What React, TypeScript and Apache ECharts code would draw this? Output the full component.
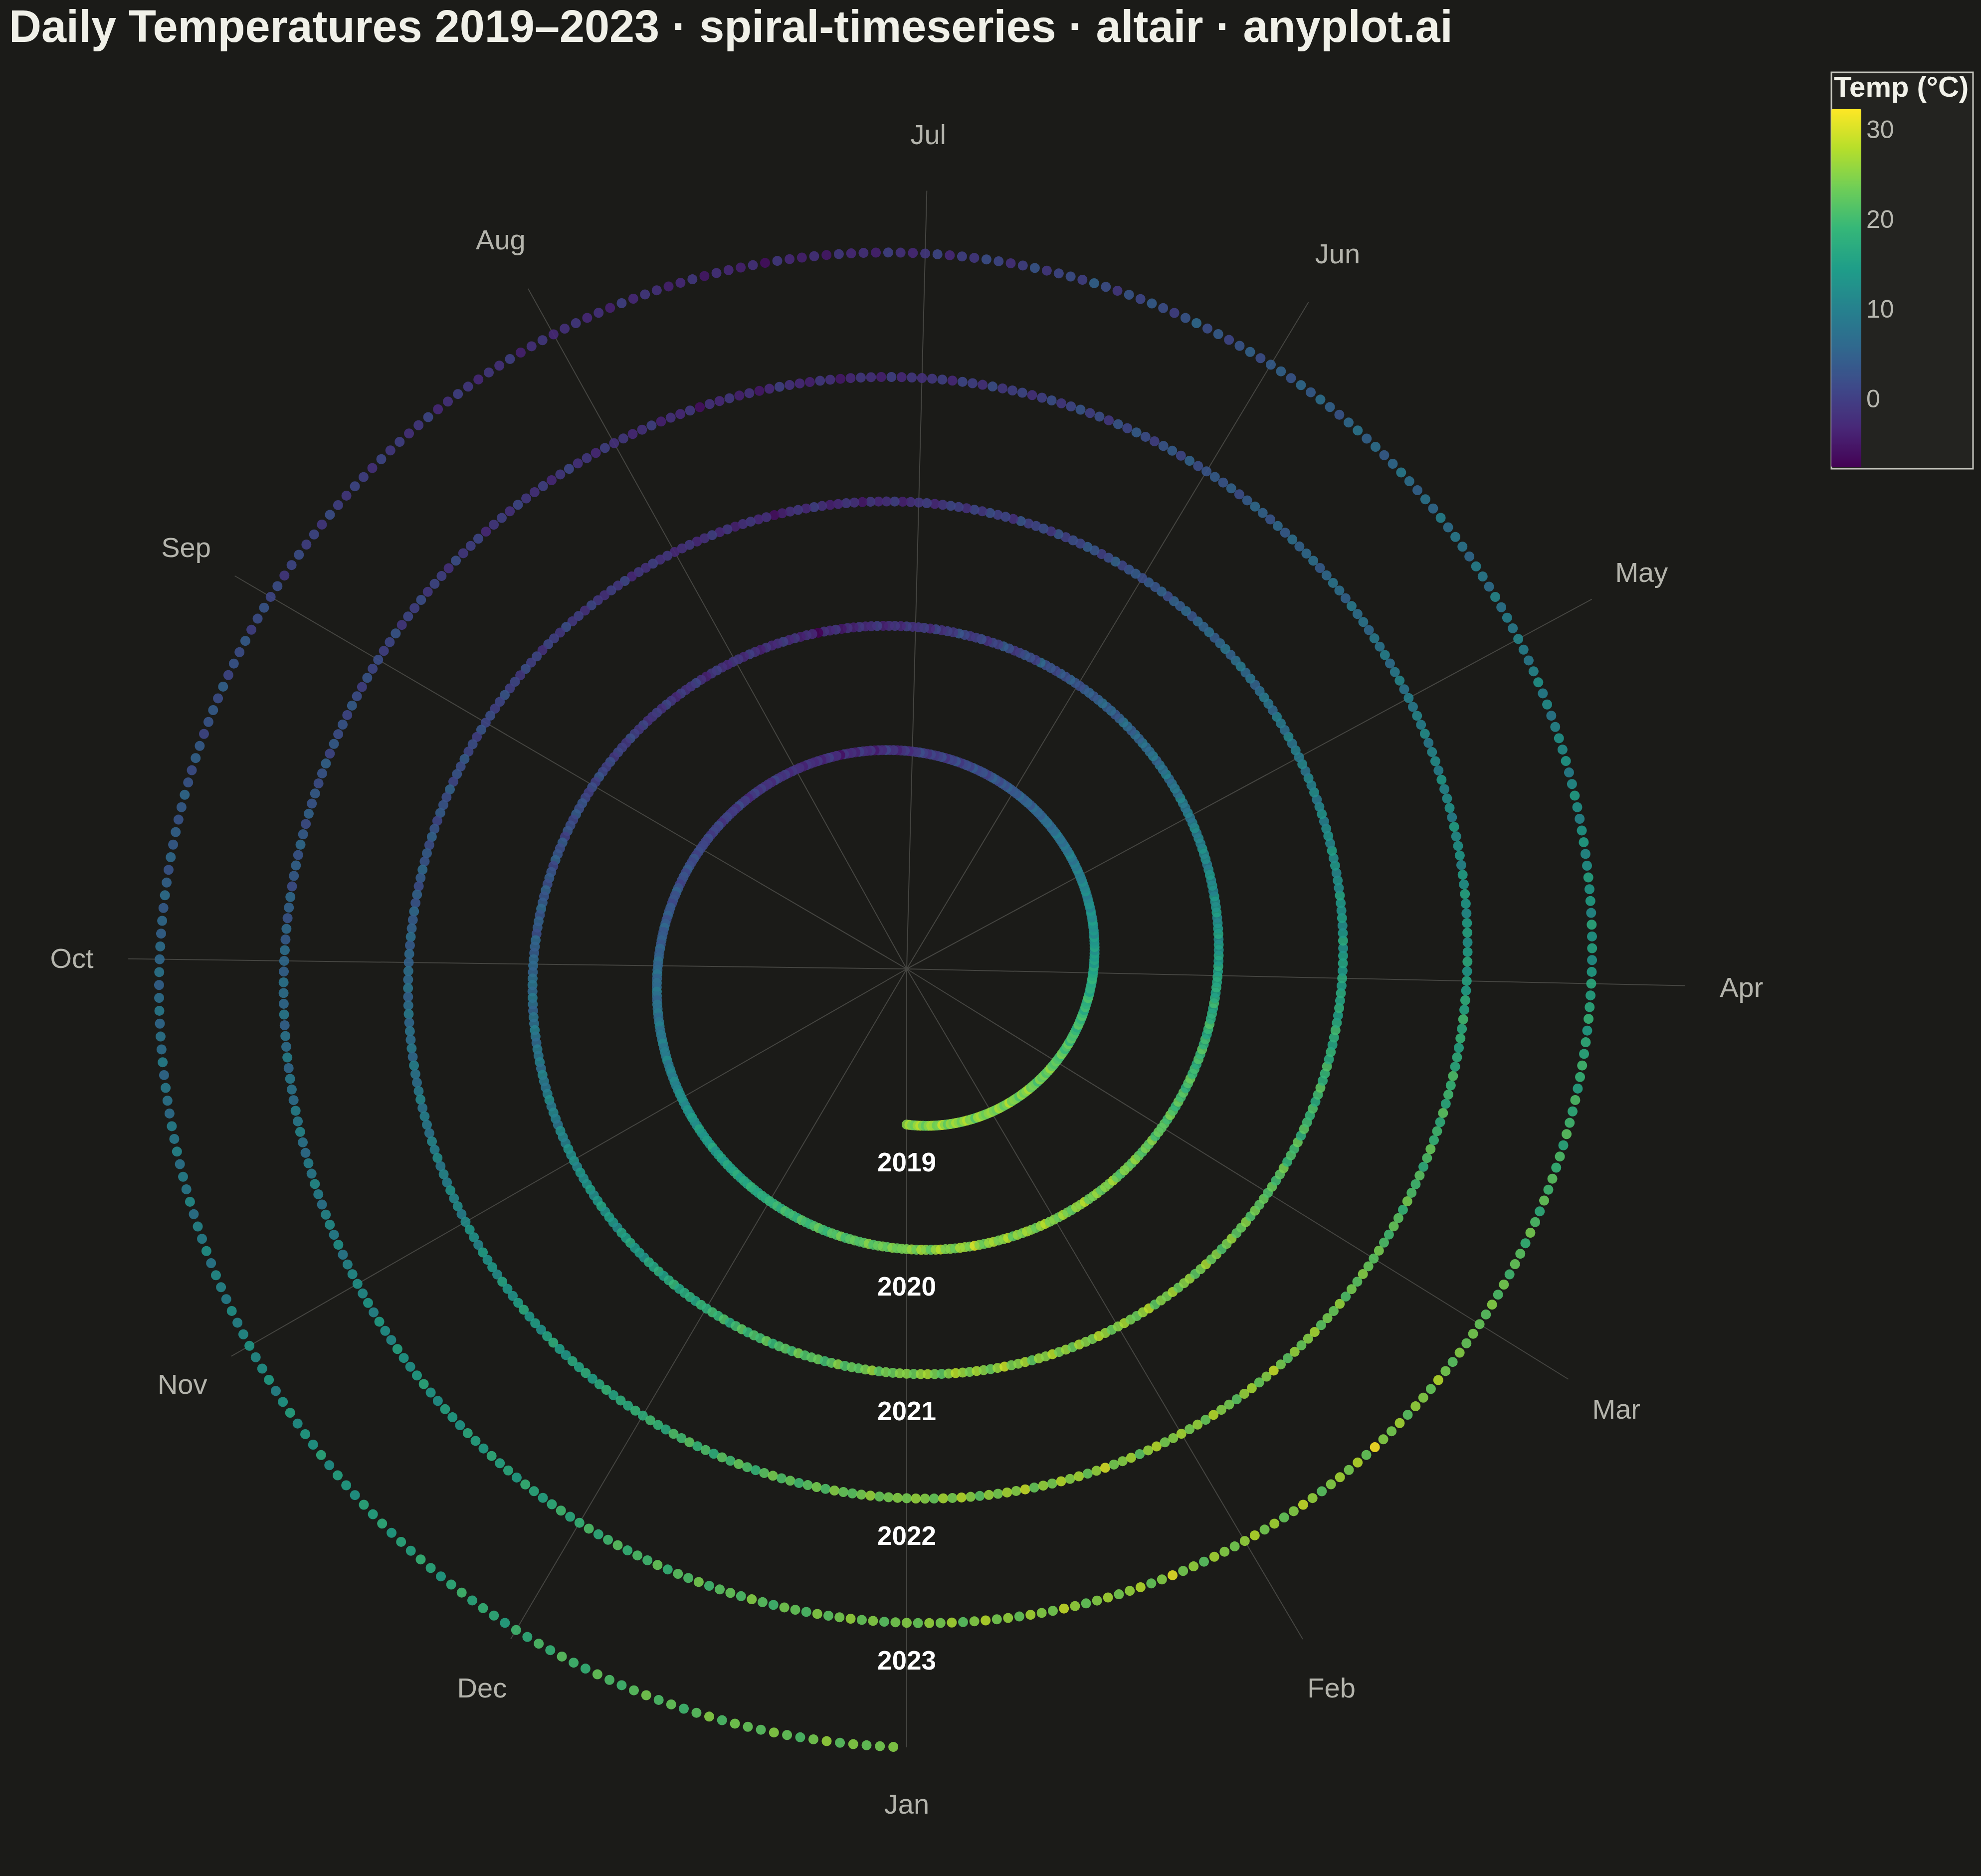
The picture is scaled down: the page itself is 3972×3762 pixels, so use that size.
import React, { useEffect, useRef } from "react";
import * as echarts from "echarts";

// ---------- data ----------
const YEARS = [2019, 2020, 2021, 2022, 2023];
const MONTHS = ["Jan", "Feb", "Mar", "Apr", "May", "Jun", "Jul", "Aug", "Sep", "Oct", "Nov", "Dec"];
const MONTH_START_DAYS = [0, 31, 59, 90, 120, 151, 181, 212, 243, 273, 304, 334];
const DAYS_IN_YEAR = 365;
const COLORBAR_TICKS = [0, 10, 20, 30];

// daily temperatures (°C), Jan 1 → Dec 31
const TEMP_2019 = [
  25, 27, 24, 23, 26, 28, 24, 22, 25, 27, 26, 23, 24, 29, 25, 22, 26, 24, 27, 25, 23, 26, 28, 24, 25, 21, 26, 27, 24, 23, 25,
  26, 24, 23, 27, 25, 22, 24, 28, 23, 25, 24, 21, 26, 23, 25, 27, 22, 24, 23, 20, 25, 22, 24, 21, 23, 26, 22, 21,
  23, 21, 20, 24, 22, 19, 21, 23, 18, 22, 20, 21, 19, 17, 22, 20, 18, 21, 19, 16, 20, 18, 17, 21, 19, 15, 18, 17, 16, 19, 17,
  16, 15, 17, 13, 16, 14, 15, 12, 16, 14, 13, 15, 11, 14, 12, 13, 15, 11, 12, 14, 10, 13, 12, 11, 9, 13, 11, 10, 12, 9,
  10, 9, 11, 8, 10, 7, 9, 11, 8, 7, 9, 6, 8, 7, 10, 6, 7, 5, 8, 6, 7, 4, 6, 5, 7, 3, 6, 5, 4, 6, 3,
  4, 3, 5, 2, 4, 1, 3, 5, 2, 0, 3, 2, 1, 4, 0, 2, 1, -1, 3, 0, 1, -2, 2, 0, -1, 1, -2, 0, 2, -1,
  -1, -3, 0, -2, -4, -1, -2, 1, -3, -2, -5, -1, -3, -2, 0, -4, -2, -3, -1, -6, -2, -3, 0, -2, -4, -1, -3, -2, -1, -4, -2,
  -2, -1, -3, 0, -2, -1, 1, -3, -1, -2, 0, -2, 1, -1, -3, 0, -1, 2, -2, 0, -1, 1, 0, -2, 2, 0, 1, -1, 2, 0, 1,
  1, 2, 0, 3, 1, 2, 4, 1, 3, 2, 0, 3, 5, 2, 3, 1, 4, 3, 5, 2, 4, 6, 3, 4, 5, 3, 6, 4, 5, 7,
  5, 6, 8, 5, 7, 6, 9, 7, 5, 8, 7, 9, 6, 8, 10, 7, 9, 8, 11, 8, 10, 9, 12, 8, 10, 11, 9, 12, 10, 11, 13,
  12, 13, 11, 14, 12, 15, 13, 12, 16, 14, 13, 15, 14, 17, 13, 15, 16, 14, 17, 15, 16, 18, 15, 17, 16, 19, 17, 16, 18, 17,
  19, 18, 20, 17, 21, 19, 20, 18, 22, 20, 19, 21, 23, 20, 19, 22, 21, 24, 20, 22, 23, 21, 22, 25, 21, 23, 24, 22, 25, 23, 24,
];
const TEMP_2020 = [
  24, 26, 23, 27, 25, 22, 26, 28, 24, 25, 23, 27, 26, 24, 30, 25, 23, 26, 27, 24, 25, 28, 22, 26, 24, 27, 25, 23, 26, 28, 24,
  25, 23, 27, 24, 22, 26, 25, 28, 23, 24, 26, 22, 25, 24, 27, 23, 21, 25, 24, 22, 26, 23, 21, 24, 22, 25, 20, 23, 22,
  22, 20, 24, 21, 19, 23, 20, 22, 18, 21, 23, 19, 20, 17, 21, 19, 22, 18, 20, 16, 19, 21, 17, 18, 16, 20, 17, 15, 18, 16, 17,
  15, 17, 14, 16, 13, 15, 12, 16, 14, 13, 11, 15, 13, 12, 14, 10, 13, 11, 14, 12, 9, 12, 11, 13, 10, 11, 9, 12, 10, 8,
  10, 8, 9, 11, 7, 9, 8, 6, 10, 7, 8, 5, 9, 7, 6, 8, 5, 7, 4, 6, 8, 5, 3, 6, 4, 7, 5, 3, 5, 4, 2,
  3, 5, 2, 4, 1, 3, 2, 6, 0, 2, 3, 1, -1, 2, 4, 0, 1, -2, 2, 0, -1, 1, 3, -1, 0, -2, 1, -3, 0, -1,
  -2, 0, -3, -1, -2, -4, 0, -2, -3, -1, -4, -2, -5, -1, -3, -2, -7.6, -3, -2, -4, -1, -3, 0, -2, -3, -1, -4, -2, 0, -3, -1,
  -1, -3, -2, 0, -1, -4, -2, 1, -1, -2, 0, -3, -1, 1, -2, 0, -1, -2, 1, -1, 0, 2, -1, 0, 1, -1, 2, 0, 1, 3, 0,
  2, 0, 1, 3, 2, 4, 1, 2, 3, 0, 4, 2, 3, 5, 1, 3, 4, 2, 5, 3, 4, 6, 3, 5, 4, 2, 6, 5, 4, 6,
  6, 5, 7, 8, 6, 9, 7, 5, 8, 7, 10, 8, 6, 9, 8, 10, 7, 11, 9, 8, 10, 12, 9, 11, 10, 8, 12, 11, 10, 13, 12,
  13, 11, 14, 12, 13, 15, 12, 14, 16, 13, 15, 14, 12, 16, 15, 17, 14, 15, 13, 17, 16, 18, 15, 17, 19, 16, 17, 18, 16, 19,
  18, 20, 19, 21, 17, 20, 22, 19, 21, 20, 23, 19, 21, 22, 20, 24, 21, 22, 23, 20, 22, 25, 21, 23, 22, 24, 26, 22, 24, 23, 25,
];
const TEMP_2021 = [
  25, 23, 26, 27, 24, 22, 25, 28, 26, 24, 27, 25, 23, 26, 29, 24, 25, 27, 22, 26, 25, 28, 24, 26, 23, 27, 25, 24, 28, 26, 23,
  25, 27, 24, 23, 26, 28, 22, 25, 24, 27, 23, 25, 26, 22, 24, 27, 23, 25, 21, 24, 26, 22, 23, 25, 21, 24, 22, 23,
  21, 23, 20, 22, 24, 19, 21, 20, 23, 18, 22, 20, 19, 21, 17, 20, 22, 18, 19, 21, 17, 19, 16, 18, 20, 17, 15, 18, 16, 17, 15,
  17, 14, 16, 15, 13, 17, 14, 12, 15, 13, 14, 16, 12, 13, 11, 14, 12, 15, 11, 13, 12, 10, 13, 11, 9, 12, 10, 11, 8, 11,
  9, 10, 8, 11, 7, 9, 10, 6, 8, 9, 7, 5, 8, 6, 9, 7, 5, 8, 6, 4, 7, 5, 6, 3, 6, 4, 5, 2, 5, 3, 4,
  2, 4, 3, 1, 5, 2, 0, 3, 4, 1, 2, 0, 3, -1, 2, 1, 0, 3, -2, 1, 0, 2, -1, 1, -2, 0, 1, -1, -3, 0,
  -1, -2, -4, 0, -2, -3, -1, -5, -2, -1, -3, -4, -2, 0, -3, -1, -2, -4, -6, -2, -3, -1, -2, -4, -1, -3, 0, -2, -3, -1, -2,
  -3, -1, -2, 0, -2, -1, -3, 1, -1, 0, -2, -1, 1, -2, 0, -1, 2, -1, 0, 1, -2, 1, 0, 2, -1, 1, 0, 3, 1, 0, 2,
  1, 3, 0, 2, 1, 4, 2, 3, 1, 5, 2, 3, 4, 1, 3, 5, 2, 4, 3, 6, 4, 2, 5, 3, 6, 4, 5, 7, 4, 6,
  5, 7, 6, 8, 5, 7, 9, 6, 8, 7, 9, 6, 10, 8, 7, 9, 11, 8, 10, 9, 8, 11, 10, 12, 9, 11, 10, 13, 11, 12, 10,
  12, 14, 13, 11, 15, 13, 14, 12, 16, 14, 13, 15, 17, 14, 15, 13, 16, 18, 15, 14, 17, 16, 18, 15, 17, 19, 16, 18, 17, 19,
  18, 20, 19, 17, 21, 20, 22, 19, 21, 18, 22, 20, 23, 21, 19, 22, 24, 21, 23, 20, 22, 24, 21, 25, 23, 22, 24, 26, 23, 24, 25,
];
const TEMP_2022 = [
  24, 26, 25, 23, 27, 24, 28, 25, 22, 26, 24, 27, 25, 29, 23, 26, 24, 28, 25, 27, 23, 26, 30, 24, 25, 27, 22, 26, 28, 24, 25,
  27, 24, 26, 23, 28, 25, 24, 22, 26, 27, 23, 25, 29, 24, 22, 26, 23, 25, 27, 22, 24, 23, 26, 21, 24, 22, 25, 23,
  22, 24, 21, 20, 23, 22, 19, 24, 21, 20, 22, 18, 21, 23, 19, 20, 18, 22, 17, 20, 19, 21, 17, 18, 16, 19, 17, 20, 16, 18, 15,
  16, 14, 17, 15, 13, 16, 15, 12, 14, 16, 13, 15, 11, 14, 13, 12, 15, 10, 13, 12, 11, 14, 10, 12, 11, 9, 12, 10, 11, 9,
  10, 8, 11, 9, 7, 10, 8, 9, 6, 8, 7, 9, 5, 7, 8, 6, 4, 7, 6, 5, 7, 4, 6, 3, 5, 6, 4, 2, 5, 3, 4,
  3, 2, 5, 1, 4, 3, 0, 2, 4, 1, 3, -1, 2, 0, 3, 1, -1, 2, 0, -2, 1, 0, -1, 2, -2, 0, 1, -3, 0, -1,
  -2, -1, -3, 0, -4, -2, -1, -3, -5, -2, -1, -4, -3, -2, 0, -3, -5, -2, -4, -1, -3, -2, -6, -1, -3, -2, -4, 0, -2, -3, -1,
  -2, 0, -3, -1, -2, 1, -1, -3, 0, -2, -1, 1, -2, 0, -1, -3, 1, 0, -1, 2, -2, 0, 1, -1, 2, 0, 1, -1, 3, 1, 0,
  2, 1, 3, 0, 2, 4, 1, 3, 2, 4, 1, 5, 3, 2, 4, 3, 5, 2, 4, 6, 3, 5, 4, 2, 6, 5, 3, 6, 4, 7,
  6, 5, 8, 7, 6, 9, 5, 8, 7, 10, 6, 9, 8, 7, 10, 9, 11, 8, 7, 10, 9, 12, 10, 8, 11, 12, 10, 13, 9, 11, 12,
  13, 12, 14, 11, 15, 13, 12, 16, 14, 13, 15, 17, 14, 13, 16, 15, 14, 17, 16, 15, 18, 16, 17, 15, 19, 17, 16, 18, 20, 17,
  19, 21, 18, 20, 22, 19, 21, 20, 23, 19, 22, 21, 24, 20, 22, 23, 21, 25, 22, 20, 24, 23, 21, 25, 22, 24, 26, 23, 25, 22, 24,
];
const TEMP_2023 = [
  25, 23, 26, 24, 27, 22, 25, 28, 24, 26, 23, 27, 25, 24, 29, 26, 23, 25, 27, 24, 26, 28, 23, 25, 31, 24, 26, 22, 27, 25, 24,
  26, 28, 24, 27, 23, 25, 29, 26, 22, 25, 27, 24, 28, 23, 32.3, 25, 24, 27, 22, 26, 25, 23, 28, 24, 22, 25, 23, 24,
  23, 22, 25, 21, 24, 20, 23, 22, 19, 24, 21, 18, 23, 20, 22, 19, 21, 17, 22, 20, 18, 21, 16, 19, 20, 17, 18, 15, 19, 17, 16,
  17, 15, 13, 16, 14, 17, 12, 15, 14, 16, 13, 12, 15, 14, 11, 13, 15, 12, 10, 14, 12, 13, 11, 9, 12, 10, 13, 11, 9, 10,
  11, 9, 10, 8, 11, 7, 9, 10, 6, 8, 9, 7, 10, 6, 8, 5, 7, 9, 6, 4, 7, 5, 8, 6, 3, 5, 7, 4, 6, 3, 5,
  4, 2, 5, 3, 1, 4, 2, 6, 3, 0, 2, 4, 1, 3, -1, 2, 5, 0, 2, 1, -1, 3, 0, -2, 1, 2, -1, 0, -3, 1,
  -1, -3, -2, 0, -4, -2, -3, -1, -5, -2, -4, -3, -1, -6, -2, -4, -3, -2, -5, -1, -3, -4, -2, -1, -3, 0, -4, -2, -3, -1, -2,
  -3, -1, -2, -4, 0, -2, -1, -3, -1, 0, -2, -3, 1, -1, -2, 0, -1, 1, -2, 0, 1, -1, 0, 2, -1, 1, 0, 2, 1, -1, 2,
  1, 3, 2, 0, 4, 2, 3, 1, 5, 2, 4, 3, 1, 4, 5, 2, 3, 6, 4, 3, 5, 4, 6, 3, 5, 7, 4, 6, 5, 7,
  6, 8, 5, 7, 9, 6, 8, 7, 10, 6, 9, 8, 7, 10, 9, 11, 8, 10, 9, 12, 8, 11, 10, 13, 9, 12, 11, 10, 13, 11, 12,
  14, 12, 13, 15, 11, 14, 16, 13, 15, 14, 17, 13, 16, 15, 14, 17, 16, 18, 15, 17, 16, 19, 17, 15, 18, 20, 17, 19, 18, 16,
  20, 18, 21, 19, 22, 20, 19, 23, 21, 20, 22, 24, 21, 23, 20, 22, 25, 21, 24, 23, 22, 25, 23, 21, 24, 26, 22, 25, 23, 24, 25,
];
const TEMPS_BY_YEAR = [TEMP_2019, TEMP_2020, TEMP_2021, TEMP_2022, TEMP_2023];

// ---------- styling ----------
const VIRIDIS = [
  "#440154", "#482878", "#3e4989", "#31688e", "#26828e",
  "#1f9e89", "#35b779", "#6ece58", "#b5de2b", "#fde725",
];
const FONT = "'Liberation Sans', Arial, Helvetica, sans-serif";
const W = 3972;
const H = 3762;
const CX = 1818;
const CY = 1943;
const R = 1561;
const SPIRAL_OFFSET = 1.25; // inner hole of the spiral, in years
const YEAR_LABEL_OFFSET = 0.3;
const MONTH_LABEL_FACTOR = 1.0725; // month labels sit just outside the spokes
const BG = "#1b1b18";

export default function App() {
  const ref = useRef<HTMLDivElement>(null);

  useEffect(() => {
    document.body.style.margin = "0";
    document.body.style.background = BG;
    if (!ref.current) return;
    const chart = echarts.init(ref.current, null, { renderer: "svg" });

    const points: number[][] = [];
    TEMPS_BY_YEAR.forEach((temps, y) => {
      const n = temps.length;
      temps.forEach((t, i) => {
        points.push([SPIRAL_OFFSET + y + i / n, (i / n) * DAYS_IN_YEAR, t]);
      });
    });
    const all = TEMPS_BY_YEAR.flat();
    const tMin = Math.min(...all);
    const tMax = Math.max(...all);
    const rMax = SPIRAL_OFFSET + YEARS.length;

    const dayCategories = Array.from({ length: DAYS_IN_YEAR }, (_, d) => "d" + d);
    const isMonthStart = (index: number) => MONTH_START_DAYS.indexOf(index) >= 0;

    const option: any = {
      animation: false,
      backgroundColor: BG,
      textStyle: { fontFamily: FONT },
      title: {
        text: "Daily Temperatures 2019–2023 · spiral-timeseries · altair · anyplot.ai",
        left: 18,
        top: 8,
        padding: 0,
        textStyle: { color: "#f0f0e8", fontSize: 90, fontWeight: "bold", fontFamily: FONT },
      },
      polar: [
        { center: [CX, CY], radius: R },
        { center: [CX, CY], radius: R },
      ],
      angleAxis: [
        {
          polarIndex: 0,
          type: "value",
          min: 0,
          max: DAYS_IN_YEAR,
          startAngle: 270,
          clockwise: false,
          show: false,
        },
        {
          polarIndex: 1,
          type: "category",
          data: dayCategories,
          boundaryGap: false,
          startAngle: 270,
          clockwise: false,
          axisLine: { show: false },
          axisTick: { show: false, interval: isMonthStart },
          axisLabel: { show: false, interval: isMonthStart },
          splitLine: {
            show: true,
            interval: isMonthStart,
            lineStyle: { color: "#454541", width: 2 },
          },
        },
      ],
      radiusAxis: [
        { polarIndex: 0, type: "value", min: 0, max: rMax, show: false },
        { polarIndex: 1, type: "value", min: 0, max: 1, show: false },
      ],
      grid: { left: 3672, top: 219, width: 60, height: 718, show: false },
      xAxis: { type: "value", gridIndex: 0, show: false, min: 0, max: 1 },
      yAxis: {
        type: "value",
        gridIndex: 0,
        min: tMin,
        max: tMax,
        position: "right",
        axisLine: { show: false },
        axisTick: { show: false },
        splitLine: { show: false },
        axisLabel: {
          customValues: COLORBAR_TICKS,
          color: "#b8b8b0",
          fontSize: 50,
          margin: 10,
          fontFamily: FONT,
        },
      },
      visualMap: {
        type: "continuous",
        seriesIndex: 0,
        dimension: 2,
        min: tMin,
        max: tMax,
        calculable: false,
        hoverLink: false,
        orient: "vertical",
        left: 3672,
        top: 219,
        itemWidth: 60,
        itemHeight: 718,
        padding: 0,
        inRange: { color: VIRIDIS },
        z: 5,
      },
      graphic: [
        {
          type: "rect",
          z: -10,
          shape: { x: 3672, y: 145, width: 284, height: 795 },
          style: { fill: "#232320", stroke: "#c5c5bd", lineWidth: 3 },
        },
        {
          type: "text",
          z: 10,
          x: 3677,
          y: 173,
          style: {
            text: "Temp (°C)",
            fill: "#f2f2ea",
            fontSize: 58,
            fontWeight: "bold",
            fontFamily: FONT,
            align: "left",
            verticalAlign: "middle",
          },
        },
      ],
      series: [
        {
          type: "scatter",
          coordinateSystem: "polar",
          polarIndex: 0,
          data: points,
          symbol: "circle",
          symbolSize: 20,
          itemStyle: { opacity: 0.88 },
          silent: true,
          z: 3,
        },
        {
          type: "scatter",
          coordinateSystem: "polar",
          polarIndex: 0,
          clip: false,
          data: YEARS.map((yr, k) => ({
            name: String(yr),
            value: [SPIRAL_OFFSET + k + YEAR_LABEL_OFFSET, 0],
          })),
          symbolSize: 2,
          itemStyle: { color: "rgba(0,0,0,0)", opacity: 1 },
          label: {
            show: true,
            position: "inside",
            formatter: "{b}",
            color: "#ffffff",
            opacity: 1,
            textBorderWidth: 0,
            fontSize: 53,
            fontWeight: "bold",
            fontFamily: FONT,
          },
          silent: true,
          z: 5,
        },
        {
          type: "scatter",
          coordinateSystem: "polar",
          polarIndex: 0,
          clip: false,
          data: MONTHS.map((m, k) => ({
            name: m,
            value: [rMax * MONTH_LABEL_FACTOR, MONTH_START_DAYS[k]],
          })),
          symbolSize: 2,
          itemStyle: { color: "rgba(0,0,0,0)", opacity: 1 },
          label: {
            show: true,
            position: "inside",
            formatter: "{b}",
            color: "#b4b4ac",
            textBorderWidth: 0,
            fontSize: 56,
            fontFamily: FONT,
          },
          silent: true,
          z: 5,
        },
      ],
    };

    chart.setOption(option);
    return () => chart.dispose();
  }, []);

  return <div ref={ref} style={{ width: W, height: H }} />;
}
